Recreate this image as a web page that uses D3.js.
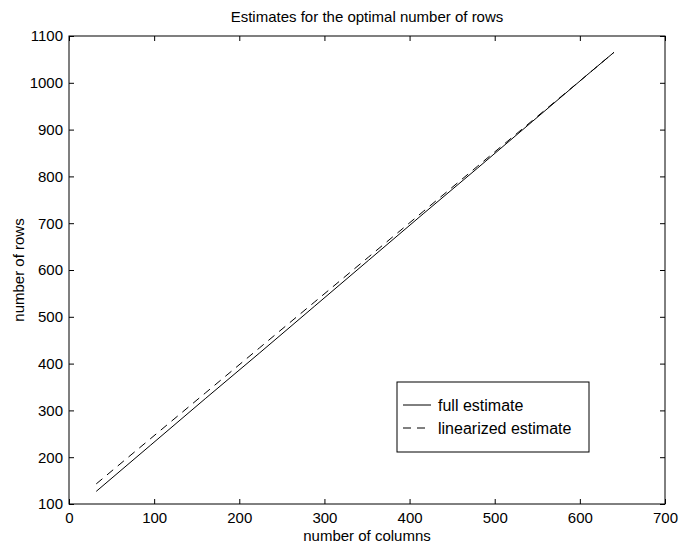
<!DOCTYPE html>
<html>
<head>
<meta charset="utf-8">
<script src="https://cdn.jsdelivr.net/npm/d3@7"></script>
<style>
  body { margin: 0; background: #fff; }
  svg text { font-family: "Liberation Sans", Arial, sans-serif; fill: #000; }
</style>
</head>
<body>
<svg id="chart" width="680" height="548"></svg>
<script>
// number of columns
const columns = [32, 96, 160, 224, 288, 352, 416, 480, 544, 608, 640];
// full estimate of rows
const fullRows = [127, 226, 325, 423, 522, 621, 720, 818, 917, 1016, 1065];
// linearized estimate of rows
const linRows = [143, 240, 337, 434, 531, 628, 725, 822, 919, 1016, 1065];

const xTicks = [0, 100, 200, 300, 400, 500, 600, 700];
const yTicks = [100, 200, 300, 400, 500, 600, 700, 800, 900, 1000, 1100];

const margin = { top: 36, right: 15, bottom: 44, left: 69 };
const width = 680, height = 548;

const svg = d3.select("#chart");

const x = d3.scaleLinear().domain([0, 700]).range([margin.left, width - margin.right]);
const y = d3.scaleLinear().domain([100, 1100]).range([height - margin.bottom, margin.top]);

const fontSize = "15px";
const fmt = d3.format("d");

// frame
svg.append("rect")
  .attr("x", x(0)).attr("y", y(1100))
  .attr("width", x(700) - x(0)).attr("height", y(100) - y(1100))
  .attr("fill", "none").attr("stroke", "#000").attr("stroke-width", 1);

// axes with inward ticks
const tickLen = 5;
svg.append("g")
  .attr("transform", `translate(0,${y(100)})`)
  .call(d3.axisBottom(x).tickValues(xTicks).tickFormat(fmt).tickSizeInner(-tickLen).tickSizeOuter(0).tickPadding(8))
  .call(g => g.select(".domain").remove())
  .call(g => g.selectAll("text").style("font-size", fontSize));

svg.append("g")
  .attr("transform", `translate(0,${y(1100)})`)
  .call(d3.axisTop(x).tickValues(xTicks).tickSizeInner(-tickLen).tickSizeOuter(0).tickFormat(""))
  .call(g => g.select(".domain").remove());

svg.append("g")
  .attr("transform", `translate(${x(0)},0)`)
  .call(d3.axisLeft(y).tickValues(yTicks).tickFormat(fmt).tickSizeInner(-tickLen).tickSizeOuter(0).tickPadding(6))
  .call(g => g.select(".domain").remove())
  .call(g => g.selectAll("text").style("font-size", fontSize));

svg.append("g")
  .attr("transform", `translate(${x(700)},0)`)
  .call(d3.axisRight(y).tickValues(yTicks).tickSizeInner(-tickLen).tickSizeOuter(0).tickFormat(""))
  .call(g => g.select(".domain").remove());

// lines
const line = d3.line().x(d => x(d[0])).y(d => y(d[1]));

svg.append("path")
  .datum(columns.map((c, i) => [c, fullRows[i]]))
  .attr("d", line)
  .attr("fill", "none").attr("stroke", "#000").attr("stroke-width", 1);

svg.append("path")
  .datum(columns.map((c, i) => [c, linRows[i]]))
  .attr("d", line)
  .attr("fill", "none").attr("stroke", "#000").attr("stroke-width", 1)
  .attr("stroke-dasharray", "8,6");

// titles
svg.append("text")
  .attr("x", (x(0) + x(700)) / 2).attr("y", 22)
  .attr("text-anchor", "middle").style("font-size", fontSize)
  .text("Estimates for the optimal number of rows");

svg.append("text")
  .attr("x", (x(0) + x(700)) / 2).attr("y", 541)
  .attr("text-anchor", "middle").style("font-size", fontSize)
  .text("number of columns");

svg.append("text")
  .attr("transform", `translate(24,${(y(100) + y(1100)) / 2}) rotate(-90)`)
  .attr("text-anchor", "middle").style("font-size", fontSize)
  .text("number of rows");

// legend
const legend = svg.append("g").attr("transform", "translate(397,382)");
legend.append("rect")
  .attr("width", 192).attr("height", 70)
  .attr("fill", "#fff").attr("stroke", "#000").attr("stroke-width", 1);

const items = [
  { label: "full estimate", dash: null, dy: 23 },
  { label: "linearized estimate", dash: "8,6", dy: 46 }
];
items.forEach(it => {
  legend.append("line")
    .attr("x1", 6).attr("x2", 34).attr("y1", it.dy).attr("y2", it.dy)
    .attr("stroke", "#000").attr("stroke-width", 1)
    .attr("stroke-dasharray", it.dash);
  legend.append("text")
    .attr("x", 41).attr("y", it.dy).attr("dy", "0.35em")
    .style("font-size", "16px")
    .text(it.label);
});
</script>
</body>
</html>
